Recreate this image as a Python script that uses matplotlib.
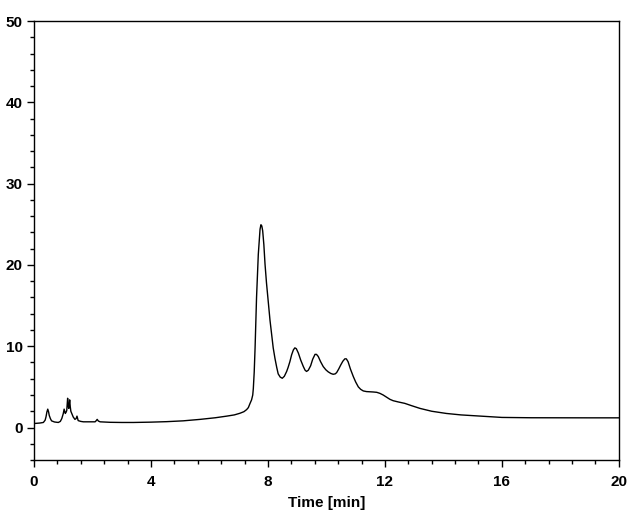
import matplotlib
matplotlib.use("Agg")
import matplotlib.pyplot as plt
from matplotlib.ticker import MultipleLocator

# chromatogram trace: time [min], signal
time = [0.0, 0.03, 0.2, 0.32, 0.38, 0.41, 0.44, 0.47, 0.5, 0.52, 0.56, 0.6, 0.7, 0.83,
        0.9, 0.95, 1.0, 1.03, 1.07, 1.1, 1.12, 1.15, 1.17, 1.19, 1.22, 1.24, 1.26, 1.29,
        1.34, 1.4, 1.44, 1.47, 1.51, 1.6, 1.69, 1.9, 2.09, 2.13, 2.16, 2.2, 2.26, 2.6,
        3.0, 3.4, 4.0, 4.54, 5.1, 5.68, 6.2, 6.59, 6.85, 7.04, 7.18, 7.27, 7.33, 7.38,
        7.44, 7.48, 7.5, 7.53, 7.56, 7.61, 7.67, 7.73, 7.76, 7.79, 7.82, 7.86, 7.9, 7.95,
        8.01, 8.07, 8.13, 8.18, 8.24, 8.3, 8.35, 8.42, 8.49, 8.56, 8.64, 8.69, 8.75, 8.81,
        8.87, 8.92, 8.97, 9.04, 9.12, 9.21, 9.27, 9.32, 9.38, 9.46, 9.53, 9.61, 9.66, 9.72,
        9.8, 9.89, 9.98, 10.06, 10.15, 10.23, 10.3, 10.35, 10.42, 10.49, 10.56, 10.63,
        10.68, 10.74, 10.82, 10.92, 11.0, 11.09, 11.17, 11.26, 11.37, 11.49, 11.6, 11.72,
        11.83, 11.94, 12.05, 12.17, 12.28, 12.45, 12.68, 12.9, 13.2, 13.6, 14.1, 14.6,
        15.25, 16.0, 17.0, 18.0, 19.0, 20.0]
signal = [0.55, 0.5, 0.55, 0.62, 0.9, 1.3, 1.9, 2.26, 1.9, 1.5, 1.1, 0.82, 0.68, 0.62,
          0.75, 1.1, 1.7, 2.26, 1.73, 1.9, 2.1, 3.6, 2.6, 2.35, 3.4, 2.55, 2.0, 1.73,
          1.3, 1.0, 1.1, 1.4, 0.85, 0.75, 0.7, 0.7, 0.7, 0.85, 1.0, 0.8, 0.7, 0.64,
          0.62, 0.62, 0.66, 0.72, 0.82, 1.0, 1.2, 1.4, 1.55, 1.75, 1.95, 2.2, 2.45, 2.9,
          3.4, 4.0, 4.8, 6.8, 9.8, 16.0, 21.3, 24.4, 24.95, 24.8, 24.2, 22.5, 20.1, 17.8,
          15.5, 13.2, 11.4, 9.8, 8.5, 7.4, 6.6, 6.2, 6.06, 6.3, 6.9, 7.4, 8.1, 8.95,
          9.55, 9.8, 9.7, 9.16, 8.3, 7.5, 7.05, 6.9, 7.05, 7.6, 8.4, 9.0, 9.0, 8.74,
          8.1, 7.5, 7.1, 6.85, 6.65, 6.55, 6.6, 6.76, 7.2, 7.7, 8.15, 8.45, 8.45, 8.1,
          7.2, 6.26, 5.6, 5.0, 4.7, 4.5, 4.42, 4.4, 4.37, 4.33, 4.2, 4.0, 3.75, 3.47,
          3.3, 3.15, 2.97, 2.7, 2.35, 2.0, 1.73, 1.55, 1.4, 1.24, 1.2, 1.19, 1.19, 1.19]

x_ticks = [0, 4, 8, 12, 16, 20]
y_ticks = [0, 10, 20, 30, 40, 50]

plt.rcParams['font.family'] = ['Liberation Sans', 'DejaVu Sans']

fig = plt.figure(figsize=(6.38, 5.16), dpi=100)
ax = fig.add_axes([0.0533, 0.1085, 0.9167, 0.8505])
ax.plot(time, signal, color='black', linewidth=1.0)

ax.set_xlim(0, 20)
ax.set_ylim(-4, 50)
ax.set_xticks(x_ticks)
ax.set_yticks(y_ticks)
ax.xaxis.set_minor_locator(MultipleLocator(0.8))
ax.yaxis.set_minor_locator(MultipleLocator(2))
ax.tick_params(which='major', direction='out', length=5, width=1, labelsize=11, pad=6)
ax.tick_params(which='minor', direction='out', length=3, width=1)
ax.tick_params(axis='y', pad=3)
for lab in ax.get_xticklabels() + ax.get_yticklabels():
    lab.set_fontweight('bold')
for s in ax.spines.values():
    s.set_linewidth(1.0)

ax.set_xlabel("Time [min]", fontsize=11, fontweight='bold', labelpad=5)

fig.savefig("out.png", dpi=100)
